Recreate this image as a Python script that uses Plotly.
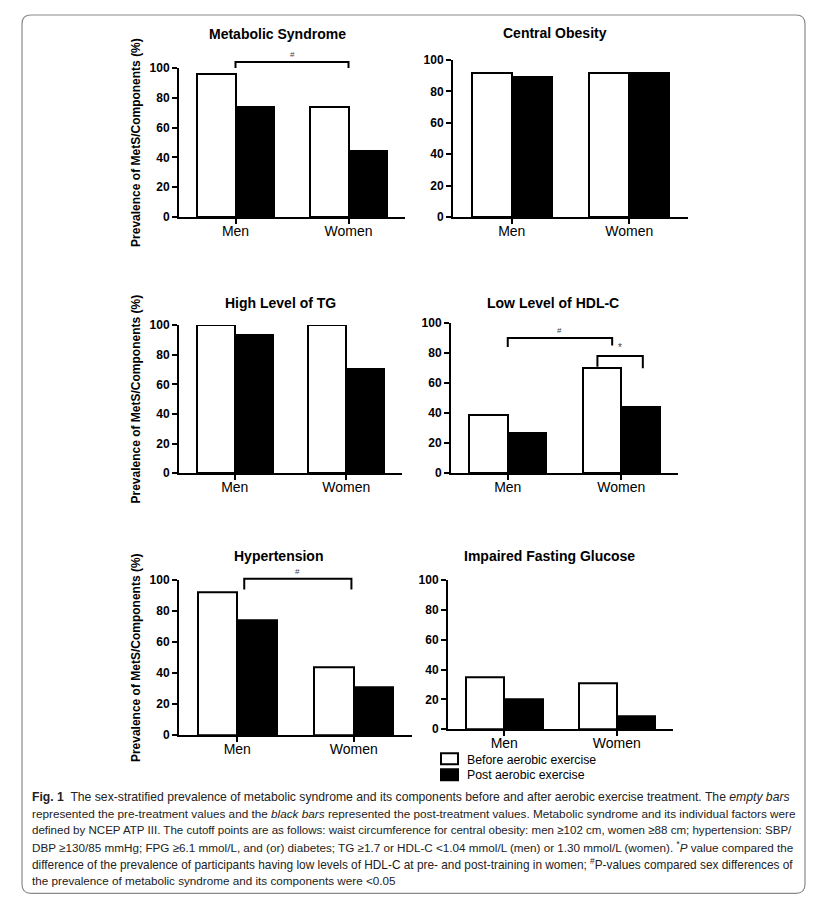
import plotly.graph_objects as go

# page pixels -> figure pixels: the page shifts the figure and squeezes it slightly
W, H = 812, 895
OFFX, OFFY, SY = 8, 15, 0.984

categories = ["Men", "Women"]
panel_titles = ["Metabolic Syndrome", "Central Obesity", "High Level of TG",
                "Low Level of HDL-C", "Hypertension", "Impaired Fasting Glucose"]
before_values = [[96, 74], [92, 92], [100, 100], [39, 70], [92, 44], [35, 31]]
post_values = [[74, 44], [89, 92], [93, 70], [27, 44], [74, 31], [20, 9]]
y_ticks = [0, 20, 40, 60, 80, 100]
y_title = "Prevalence of MetS/Components (%)"
legend_labels = ["Before aerobic exercise", "Post aerobic exercise"]

# significance brackets: panel, x start, x end, height, left drop, right drop, mark
brackets = [
    (0, 0.0, 1.0, 104, 100, 100, "#"),
    (3, 0.0, 0.92, 90, 84, 85, "#"),
    (3, 0.79, 1.19, 78, 71, 70, "*"),
    (4, 0.06, 0.98, 101, 94, 94, "#"),
]

caption_lines = [
    "<b>Fig. 1</b>  The sex-stratified prevalence of metabolic syndrome and its components before and after aerobic exercise treatment. The <i>empty bars</i>",
    "represented the pre-treatment values and the <i>black bars</i> represented the post-treatment values. Metabolic syndrome and its individual factors were",
    "defined by NCEP ATP III. The cutoff points are as follows: waist circumference for central obesity: men ≥102 cm, women ≥88 cm; hypertension: SBP/",
    "DBP ≥130/85 mmHg; FPG ≥6.1 mmol/L, and (or) diabetes; TG ≥1.7 or HDL-C &lt;1.04 mmol/L (men) or 1.30 mmol/L (women). <sup>*</sup><i>P</i> value compared the",
    "difference of the prevalence of participants having low levels of HDL-C at pre- and post-training in women; <sup>#</sup>P-values compared sex differences of",
    "the prevalence of metabolic syndrome and its components were &lt;0.05",
]
caption_sizes = [12.2, 11.75, 11.55, 11.7, 11.85, 11.7]  # roughly justified lines

# panel boxes in page pixels: left, right, y of 0, y of 100, title centre x, title y
boxes = [
    (179, 405, 217, 68, 277, 34),
    (453, 688, 217, 60, 555, 33),
    (179, 402, 473, 325, 280, 303),
    (451, 678, 473, 323, 553, 303),
    (179, 412, 735, 580, 278, 556),
    (448, 673, 729, 580, 549, 556),
]

FONT = "Liberation Sans, Arial, sans-serif"
BW = 0.34
EXT = 1.2


def px(x):
    return (x - OFFX) / W


def py(y):
    return 1 - ((y - OFFY) / SY) / H


fig = go.Figure()
layout = {}
annotations = []

for i, (l, r, yb, yt, tx, ty) in enumerate(boxes):
    n = i + 1
    sfx = "" if n == 1 else str(n)
    xa, ya = "x" + sfx, "y" + sfx

    fig.add_trace(go.Bar(
        x=[0, 1], y=before_values[i], width=BW, offset=-BW,
        marker=dict(color="white", line=dict(color="black", width=2)),
        name=legend_labels[0], showlegend=False, cliponaxis=False,
        xaxis=xa, yaxis=ya))
    fig.add_trace(go.Bar(
        x=[0, 1], y=post_values[i], width=BW, offset=0,
        marker=dict(color="black", line=dict(color="black", width=2)),
        name=legend_labels[1], showlegend=False, cliponaxis=False,
        xaxis=xa, yaxis=ya))

    layout["xaxis" + sfx] = dict(
        domain=[px(l), px(r)], range=[-0.5, 1.5], anchor=ya,
        tickvals=[0, 1], ticktext=categories, showline=True, linecolor="black",
        linewidth=2, ticks="outside", ticklen=5, tickwidth=2, tickcolor="black",
        ticklabelstandoff=-5,
        tickfont=dict(family=FONT, size=14, color="black"),
        showgrid=False, zeroline=False, fixedrange=True)
    yax = dict(
        domain=[py(yb), py(yt)], range=[0, 100], anchor=xa,
        tickvals=y_ticks, showline=True, linecolor="black", linewidth=2,
        ticks="outside", ticklen=5, tickwidth=2, tickcolor="black",
        tickfont=dict(family=FONT, size=12, color="black", weight="bold"),
        showgrid=False, zeroline=False, fixedrange=True)
    if i % 2 == 0:
        yax["title"] = dict(text=y_title, standoff=6,
                            font=dict(family=FONT, size=12, color="black", weight="bold"))
    layout["yaxis" + sfx] = yax
    # taller helper axis on the same scale for the significance brackets
    layout["yaxis" + str(n + 6)] = dict(
        domain=[py(yb), py(yb - (yb - yt) * EXT)], range=[0, 100 * EXT],
        anchor=xa, visible=False, fixedrange=True)

    annotations.append(dict(
        text="<b>" + panel_titles[i] + "</b>", x=px(tx), y=py(ty),
        xref="paper", yref="paper", showarrow=False, xanchor="center",
        yanchor="middle", font=dict(family=FONT, size=14, color="black")))

for p, x0, x1, yh, dl, dr, mark in brackets:
    n = p + 1
    sfx = "" if n == 1 else str(n)
    fig.add_trace(go.Scatter(
        x=[x0, x0, x1, x1], y=[dl, yh, yh, dr], mode="lines",
        line=dict(color="black", width=2), hoverinfo="skip", showlegend=False,
        xaxis="x" + sfx, yaxis="y" + str(n + 6)))
    annotations.append(dict(
        text=mark, x=(x0 + x1) / 2, y=yh + 0.5, xref="x" + sfx, yref="y" + str(n + 6),
        showarrow=False, yanchor="bottom",
        font=dict(family=FONT, size=10 if mark == "*" else 8, color="#444")))

# legend
shapes = [
    dict(type="rect", xref="paper", yref="paper", x0=px(441), x1=px(458),
         y0=py(764), y1=py(753), fillcolor="white", line=dict(color="black", width=2)),
    dict(type="rect", xref="paper", yref="paper", x0=px(441), x1=px(458),
         y0=py(780), y1=py(769), fillcolor="black", line=dict(color="black", width=2)),
]
for k, ly in enumerate([759.5, 774.5]):
    annotations.append(dict(
        text=legend_labels[k], x=px(465), y=py(ly), xref="paper", yref="paper",
        showarrow=False, xanchor="left", yanchor="middle",
        font=dict(family=FONT, size=12.3, color="black")))

# caption
for k, line in enumerate(caption_lines):
    annotations.append(dict(
        text=line, x=px(30), y=py(797 + k * 16.6), xref="paper", yref="paper",
        showarrow=False, xanchor="left", yanchor="middle", align="left",
        font=dict(family=FONT, size=caption_sizes[k], color="#222")))

# rounded frame around the figure
L, T, R, B, rad = 22, 15, 805, 893, 9
frame = (f"M {px(L + rad)},{py(T)} L {px(R - rad)},{py(T)} "
         f"Q {px(R)},{py(T)} {px(R)},{py(T + rad)} L {px(R)},{py(B - rad)} "
         f"Q {px(R)},{py(B)} {px(R - rad)},{py(B)} L {px(L + rad)},{py(B)} "
         f"Q {px(L)},{py(B)} {px(L)},{py(B - rad)} L {px(L)},{py(T + rad)} "
         f"Q {px(L)},{py(T)} {px(L + rad)},{py(T)} Z")
shapes.append(dict(type="path", path=frame, xref="paper", yref="paper",
                   line=dict(color="#8a8a8a", width=1.2), layer="below"))

fig.update_layout(
    width=W, height=H, margin=dict(l=0, r=0, t=0, b=0),
    paper_bgcolor="white", plot_bgcolor="rgba(0,0,0,0)",
    showlegend=False, bargap=0, annotations=annotations, shapes=shapes,
    font=dict(family=FONT, color="black"), **layout)

fig.write_html("out.html")
